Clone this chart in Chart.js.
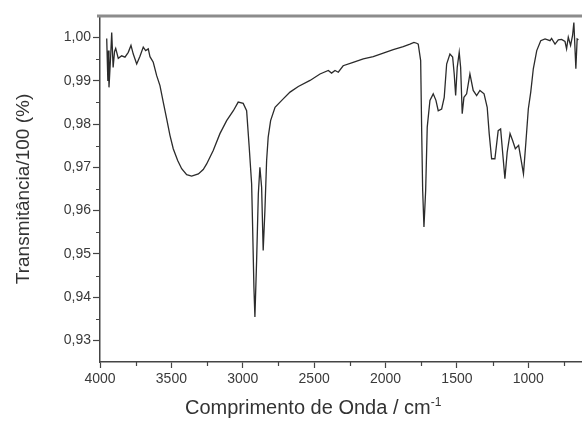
<!DOCTYPE html>
<html>
<head>
<meta charset="utf-8">
<script src="https://cdn.jsdelivr.net/npm/chart.js@4.4.1/dist/chart.umd.min.js"></script>
<style>
  html, body { margin: 0; padding: 0; background: #fff; overflow: hidden; }
  #wrap { position: relative; width: 582px; height: 421px; }
  #xtitle { position: absolute; left: 185px; top: 397px; font: 20px "Liberation Sans", Arial, sans-serif; color: #333; white-space: nowrap; line-height: 20px; }
  #xtitle sup { font-size: 12px; vertical-align: 8px; line-height: 0; }
</style>
</head>
<body>
<div id="wrap">
  <canvas id="c" width="582" height="421"></canvas>
  <div id="xtitle">Comprimento de Onda / cm<sup>-1</sup></div>
</div>
<script>
// Wavenumber (cm-1) values
const wavenumber = [
  3953, 3945, 3941, 3937, 3925, 3918, 3908, 3898, 3890, 3872, 3848, 3825, 3802, 3783, 3767, 3743,
  3720, 3697, 3680, 3662, 3650, 3627, 3603, 3580, 3557, 3533, 3510, 3487, 3456, 3428, 3393,
  3358, 3311, 3277, 3253, 3207, 3160, 3113, 3066, 3032, 2997, 2973, 2955, 2938, 2931, 2922,
  2915, 2903, 2891, 2880, 2868, 2857, 2845, 2833, 2822, 2805, 2774, 2727, 2669, 2611, 2529,
  2459, 2401, 2378, 2354, 2331, 2297, 2227, 2156, 2086, 2016, 1946, 1876, 1829, 1801, 1782,
  1771, 1754, 1747, 1740, 1731, 1719, 1708, 1689, 1666, 1647, 1631, 1607, 1589, 1572, 1549,
  1530, 1519, 1509, 1498, 1484, 1474, 1463, 1451, 1432, 1409, 1386, 1362, 1339, 1310, 1288,
  1274, 1257, 1234, 1211, 1194, 1176, 1164, 1148, 1128, 1110, 1091, 1068, 1052, 1034, 1017,
  1000, 983, 965, 941, 913, 883, 848, 837, 813, 790, 767, 743, 732, 720, 704, 690, 681, 667,
  658, 649
];
// Transmittance/100 values
const transmittance = [
  0.9998, 0.9900, 0.9970, 0.9885, 0.9960, 1.0012, 0.9931, 0.9968, 0.9975, 0.9952, 0.9958, 0.9955, 0.9966, 0.9982, 0.9962, 0.9939,
  0.9957, 0.9978, 0.9970, 0.9974, 0.9956, 0.9943, 0.9912, 0.9889, 0.9851, 0.9812, 0.9774, 0.9743, 0.9716, 0.9697, 0.9683,
  0.9680, 0.9685, 0.9695, 0.9708, 0.9739, 0.9778, 0.9808, 0.9831, 0.9851, 0.9848, 0.9831, 0.9747, 0.9662, 0.9562, 0.9423,
  0.9354, 0.9485, 0.9639, 0.9700, 0.9654, 0.9508, 0.9600, 0.9716, 0.9770, 0.9808, 0.9839, 0.9855, 0.9874, 0.9887, 0.9901,
  0.9916, 0.9924, 0.9918, 0.9924, 0.9920, 0.9935, 0.9943, 0.9951, 0.9956, 0.9964, 0.9972, 0.9979, 0.9985, 0.9989, 0.9987,
  0.9985, 0.9947, 0.9785, 0.9647, 0.9562, 0.9647, 0.9793, 0.9855, 0.9870, 0.9855, 0.9831, 0.9835, 0.9862, 0.9939, 0.9962,
  0.9955, 0.9916, 0.9866, 0.9931, 0.9966, 0.9931, 0.9824, 0.9862, 0.9870, 0.9916, 0.9878, 0.9866, 0.9878, 0.9870, 0.9839,
  0.9778, 0.9720, 0.9720, 0.9785, 0.9789, 0.9720, 0.9674, 0.9735, 0.9778, 0.9762, 0.9743, 0.9751, 0.9720, 0.9685, 0.9758,
  0.9835, 0.9874, 0.9928, 0.9970, 0.9993, 0.9997, 0.9993, 0.9998, 0.9985, 0.9995, 0.9996, 0.9991, 0.9974, 1.0001, 0.9982, 1.0005, 1.0035, 0.9928,
  0.9997, 0.9995
];
const xMajorTicks = [4000, 3500, 3000, 2500, 2000, 1500, 1000];
const xMinorTicks = [3750, 3250, 2750, 2250, 1750, 1250, 750];
const yMajorTicks = [0.93, 0.94, 0.95, 0.96, 0.97, 0.98, 0.99, 1.00];
const yMinorTicks = [0.935, 0.945, 0.955, 0.965, 0.975, 0.985, 0.995];

const AXIS_COLOR = '#444';
const points = wavenumber.map((w, i) => ({ x: w, y: transmittance[i] }));

const extras = {
  id: 'extras',
  afterDraw(chart) {
    const { ctx, chartArea, scales } = chart;
    ctx.save();
    ctx.strokeStyle = AXIS_COLOR;
    ctx.lineWidth = 1.2;
    ctx.beginPath();
    xMinorTicks.forEach(v => {
      const px = Math.round(scales.x.getPixelForValue(v)) + 0.5;
      ctx.moveTo(px, chartArea.bottom);
      ctx.lineTo(px, chartArea.bottom + 4);
    });
    yMinorTicks.forEach(v => {
      const py = Math.round(scales.y.getPixelForValue(v)) + 0.5;
      ctx.moveTo(chartArea.left, py);
      ctx.lineTo(chartArea.left - 4, py);
    });
    ctx.stroke();
    // top frame line
    ctx.strokeStyle = '#8c8c8c';
    ctx.lineWidth = 3;
    ctx.beginPath();
    ctx.moveTo(chartArea.left - 3, chartArea.top);
    ctx.lineTo(chartArea.right, chartArea.top);
    ctx.stroke();
    ctx.restore();
  }
};

new Chart(document.getElementById('c'), {
  type: 'line',
  data: {
    datasets: [{
      data: points,
      borderColor: '#2b2b2b',
      borderWidth: 1.3,
      pointRadius: 0,
      tension: 0,
      fill: false
    }]
  },
  options: {
    responsive: false,
    animation: false,
    events: [],
    layout: { padding: { top: 16, right: 0, left: 0, bottom: 0 } },
    plugins: { legend: { display: false }, tooltip: { enabled: false } },
    scales: {
      x: {
        type: 'linear',
        reverse: true,
        min: 624,
        max: 4000,
        afterBuildTicks: s => { s.ticks = xMajorTicks.map(v => ({ value: v })); },
        afterFit: s => { s.height = 59; },
        ticks: {
          autoSkip: false, maxRotation: 0, padding: 3,
          color: '#3a3a3a',
          font: { family: '"Liberation Sans", Arial, sans-serif', size: 14 },
          callback: v => String(v)
        },
        grid: { display: true, drawOnChartArea: false, drawTicks: true, tickLength: 6, tickColor: AXIS_COLOR, tickWidth: 1.2 },
        border: { display: true, color: AXIS_COLOR, width: 1.5 }
      },
      y: {
        min: 0.925,
        max: 1.005,
        afterBuildTicks: s => { s.ticks = yMajorTicks.map(v => ({ value: v })); },
        afterFit: s => { s.width = 100; },
        ticks: {
          autoSkip: false, padding: 2,
          color: '#3a3a3a',
          font: { family: '"Liberation Sans", Arial, sans-serif', size: 14 },
          callback: v => Number(v).toFixed(2).replace('.', ',')
        },
        grid: { display: true, drawOnChartArea: false, drawTicks: true, tickLength: 7, tickColor: AXIS_COLOR, tickWidth: 1.2 },
        border: { display: true, color: AXIS_COLOR, width: 1.5 },
        title: {
          display: true,
          text: 'Transmitância/100 (%)',
          color: '#333',
          font: { family: '"Liberation Sans", Arial, sans-serif', size: 19 },
          padding: { top: 12, bottom: 0 }
        }
      }
    }
  },
  plugins: [extras]
});
</script>
</body>
</html>
